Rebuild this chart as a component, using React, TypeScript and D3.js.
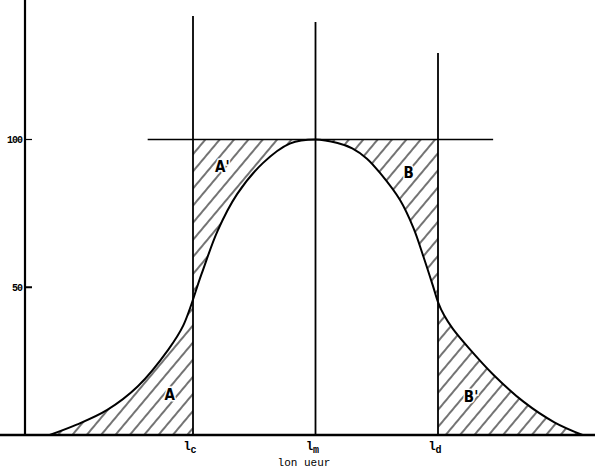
import React from "react";
import * as d3 from "d3";

// curve: position (lc = -1, lm = 0, ld = 1) and percent
const curveX = [-2.17, -1.95, -1.7, -1.45, -1.2, -1.08, -0.93, -0.8, -0.64, -0.43, -0.21, 0,
  0.18, 0.3, 0.42, 0.53, 0.69, 0.8, 0.88, 0.96, 1.0, 1.05, 1.12, 1.25, 1.45, 1.7, 1.95, 2.18];
const curveY = [0, 3.5, 8.5, 16.5, 29, 37, 54.5, 69, 81.5, 92, 98.6, 100,
  98.8, 97, 93.5, 88.5, 79.5, 70, 60.5, 50.3, 45, 40.5, 36, 29.5, 20.5, 11.2, 4.3, 0];

const yTicks = [100, 50];
const markers = [
  { x: -1, name: "l", sub: "c", top: 141.8 },
  { x: 0, name: "l", sub: "m", top: 139.8 },
  { x: 1, name: "l", sub: "d", top: 129.3 },
];
const zones = [
  { label: "A", x: -1.19, y: 12 },
  { label: "A'", x: -0.76, y: 89 },
  { label: "B", x: 0.76, y: 87 },
  { label: "B'", x: 1.27, y: 11 },
];
const axisLabel = "lon ueur";

export default function App() {
  const x = d3.scaleLinear().domain([-1, 1]).range([193, 438]);
  const y = d3.scaleLinear().domain([0, 100]).range([435, 139.5]);
  const pts: [number, number][] = curveX.map((d, i) => [d, curveY[i]]);
  const smooth = d3.curveCatmullRom.alpha(0.5);

  const line = d3.line<[number, number]>()
    .x((d) => x(d[0])).y((d) => y(d[1]))
    .curve(smooth);
  const under = d3.area<[number, number]>()
    .x((d) => x(d[0])).y0(y(0)).y1((d) => y(d[1]))
    .curve(smooth);
  const over = d3.area<[number, number]>()
    .x((d) => x(d[0])).y0(y(100)).y1((d) => y(d[1]))
    .curve(smooth);

  const labelFont = "'Liberation Sans Narrow', 'DejaVu Sans Condensed', sans-serif";
  const monoFont = "'Liberation Mono', 'DejaVu Sans Mono', monospace";

  return (
    <svg width={599} height={470} style={{ position: "absolute", left: 0, top: 0, background: "#fff" }}>
      <defs>
        <pattern id="hatch" width={11} height={11} patternUnits="userSpaceOnUse" patternTransform="rotate(40)">
          <line x1={5} y1={0} x2={5} y2={11} stroke="#000" strokeWidth={1.1} />
        </pattern>
        <clipPath id="left"><rect x={0} y={0} width={x(-1)} height={470} /></clipPath>
        <clipPath id="right"><rect x={x(1)} y={0} width={599 - x(1)} height={470} /></clipPath>
        <clipPath id="mid"><rect x={x(-1)} y={0} width={x(1) - x(-1)} height={470} /></clipPath>
      </defs>

      {/* hatched zones */}
      <path d={under(pts) ?? ""} fill="url(#hatch)" clipPath="url(#left)" />
      <path d={under(pts) ?? ""} fill="url(#hatch)" clipPath="url(#right)" />
      <path d={over(pts) ?? ""} fill="url(#hatch)" clipPath="url(#mid)" />

      {/* y axis */}
      <line x1={25} x2={25} y1={y(147.2)} y2={y(0)} stroke="#000" strokeWidth={2.2} />
      {yTicks.map((t) => (
        <g key={t}>
          <line x1={25} x2={32} y1={y(t)} y2={y(t)} stroke="#000" strokeWidth={t === 50 ? 2 : 1.2} />
          <text x={22} y={y(t) + 3.5} textAnchor="end" fontSize={10} fontWeight="bold"
            fontFamily={monoFont} letterSpacing={-1}>{t}</text>
        </g>
      ))}

      {/* baseline */}
      <line x1={0} x2={595} y1={y(0)} y2={y(0)} stroke="#000" strokeWidth={2.4} />

      {/* 100 % level */}
      <line x1={x(-1.37)} x2={x(1.45)} y1={y(100)} y2={y(100)} stroke="#000" strokeWidth={1.6} />

      {/* vertical markers */}
      {markers.map((m) => (
        <g key={m.sub}>
          <line x1={x(m.x)} x2={x(m.x)} y1={y(m.top)} y2={y(0)} stroke="#000" strokeWidth={1.8} />
          <text x={x(m.x) - 3} y={y(0) + 15} fontSize={12} fontWeight="bold" fontFamily={monoFont}
            textAnchor="middle">
            {m.name}
            <tspan fontSize={10} dy={3}>{m.sub}</tspan>
          </text>
        </g>
      ))}

      {/* curve */}
      <path d={line(pts) ?? ""} fill="none" stroke="#000" strokeWidth={2} />

      {zones.map((z) => (
        <text key={z.label} x={x(z.x)} y={y(z.y)} fontSize={15} fontWeight="bold" fontFamily={labelFont}
          textAnchor="middle" style={{ paintOrder: "stroke" }} stroke="#fff" strokeWidth={3}>
          {z.label}
        </text>
      ))}

      <text x={304} y={466} textAnchor="middle" fontSize={11} fontFamily={monoFont}>{axisLabel}</text>
    </svg>
  );
}
